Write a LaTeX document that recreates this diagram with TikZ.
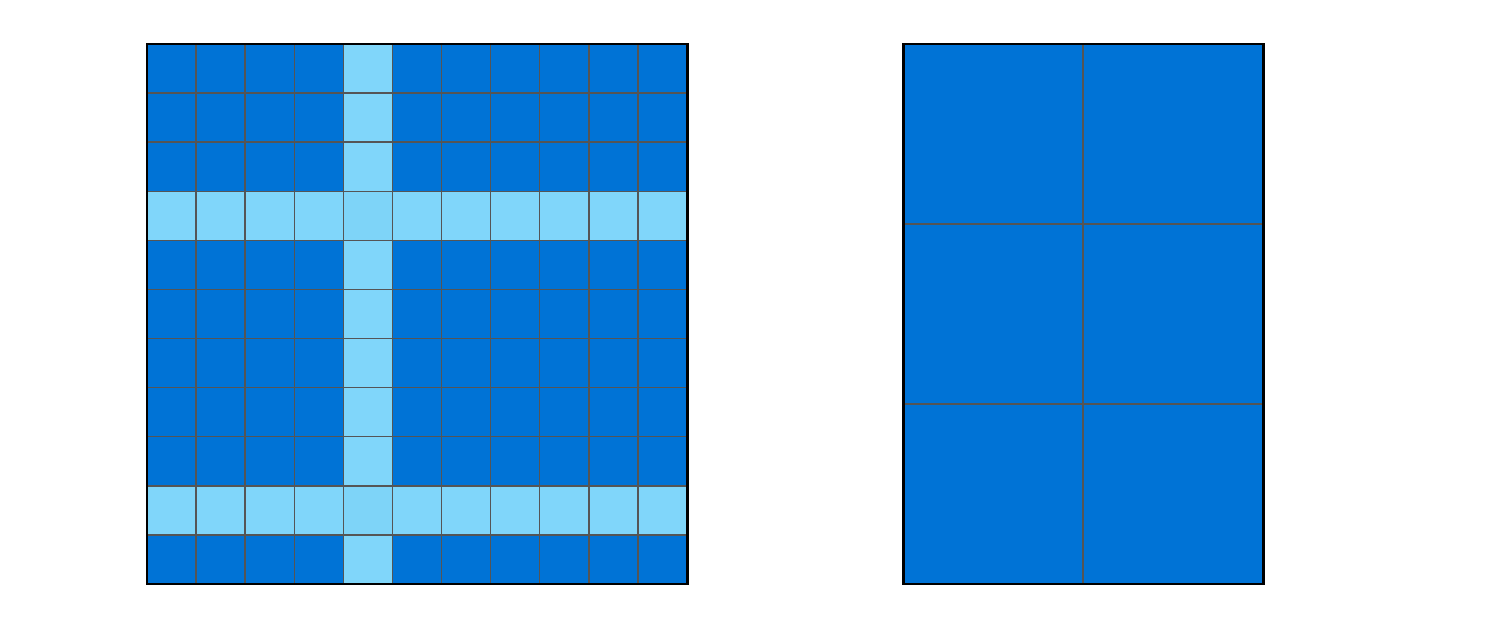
\documentclass[tikz,border=0pt]{standalone}
\definecolor{cellblue}{RGB}{0,115,214}
\definecolor{bandlight}{RGB}{128,214,250}
\definecolor{crosslight}{RGB}{126,212,248}
\definecolor{gridgray}{RGB}{85,85,85}
\tikzset{
  cell/.style={fill=cellblue},
  band/.style={fill=bandlight},
  cross/.style={fill=crosslight},
  gridline/.style={draw=gridgray, line width=0.85pt},
  frame/.style={draw=black, line width=1.7pt}
}
\begin{document}
\begin{tikzpicture}[x=0.02cm, y=0.02cm]
\useasboundingbox (0,0) rectangle (1500,629);
\pgfmathsetmacro{\cw}{540/11}
% left grid: 11 x 11 cells
\fill[cell] (147,45) rectangle (687,585);
\fill[band] ({147+4*\cw},45) rectangle ({147+5*\cw},585);
\foreach \r in {3,9}
  \fill[band] (147,{585-\r*\cw}) rectangle (687,{585-(\r+1)*\cw});
\foreach \r in {3,9}
  \fill[cross] ({147+4*\cw},{585-\r*\cw}) rectangle ({147+5*\cw},{585-(\r+1)*\cw});
\foreach \k in {1,...,10} {
  \draw[gridline] ({147+\k*\cw},45) -- ({147+\k*\cw},585);
  \draw[gridline] (147,{45+\k*\cw}) -- (687,{45+\k*\cw});
}
\draw[frame] (147,45) rectangle (687,585);
% right grid: 2 x 3 cells
\fill[cell] (903,45) rectangle (1263,585);
\draw[gridline] (1083,45) -- (1083,585);
\foreach \y in {225,405}
  \draw[gridline] (903,\y) -- (1263,\y);
\draw[frame] (903,45) rectangle (1263,585);
\end{tikzpicture}
\end{document}
